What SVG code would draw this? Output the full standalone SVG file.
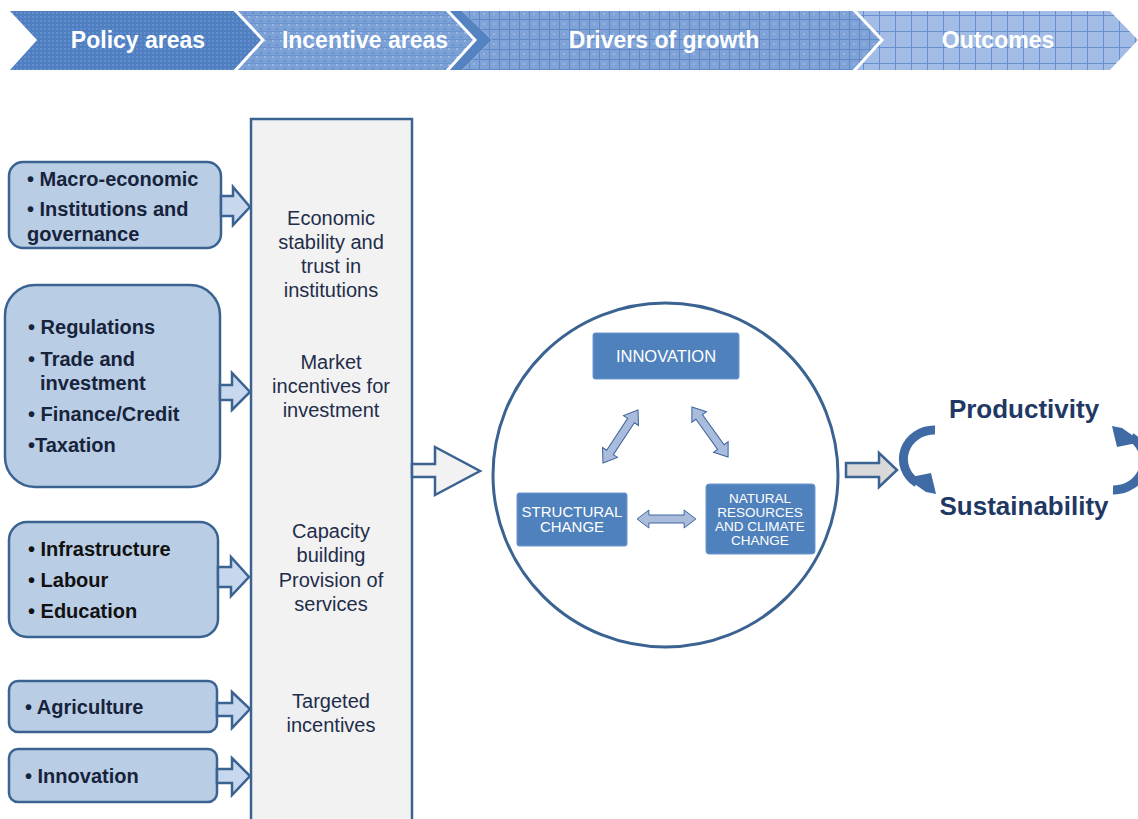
<svg xmlns="http://www.w3.org/2000/svg" width="1138" height="819" viewBox="0 0 1138 819">
<style>
.hdr{font-family:"Liberation Sans",Arial,sans-serif;font-weight:bold;font-size:23px;fill:#ffffff;text-anchor:middle}
.pbox{fill:#b9cde5;stroke:#3b6392;stroke-width:2.5}
.ptxt{font-family:"Liberation Sans",Arial,sans-serif;font-weight:bold;font-size:20px;fill:#17233b}
.blk{fill:#111111}
.barrow{fill:#c6d7ee;stroke:#3b6392;stroke-width:2.5;stroke-linejoin:miter}
.ctxt{font-family:"Liberation Sans",Arial,sans-serif;font-size:20px;fill:#1f2d4a;text-anchor:middle}
.drv{fill:#4f81bd;stroke:#6f97cc;stroke-width:1}
.dtxt{font-family:"Liberation Sans",Arial,sans-serif;fill:#ffffff;text-anchor:middle}
.dbl{fill:#a9bcdc;stroke:#3d64a0;stroke-width:1}
.out{font-family:"Liberation Sans",Arial,sans-serif;font-weight:bold;font-size:26px;fill:#1f3864;text-anchor:middle}
.curve{fill:none;stroke:#3f6aa3;stroke-width:9}
.chead{fill:#3f6aa3}
</style>
<defs>
<pattern id="p1" width="4" height="4" patternUnits="userSpaceOnUse">
<rect width="4" height="4" fill="#4f7fc0"/><rect width="2" height="2" fill="#628fcb"/>
</pattern>
<pattern id="p2" width="8" height="8" patternUnits="userSpaceOnUse">
<rect width="8" height="8" fill="#7aa0d6"/><rect width="2" height="2" fill="#9ab8e2"/><rect x="4" y="4" width="2" height="2" fill="#6690cc"/><rect y="7" width="8" height="1" fill="#6a92cc"/>
</pattern>
<pattern id="p3" width="10" height="10" patternUnits="userSpaceOnUse">
<rect width="10" height="10" fill="#7fa3d6"/><rect x="9" width="1" height="10" fill="#6088c6"/><rect y="9" width="10" height="1" fill="#6088c6"/><rect x="3" y="3" width="2" height="2" fill="#97b5e0"/>
</pattern>
<pattern id="p4" width="16" height="16" patternUnits="userSpaceOnUse">
<rect width="16" height="16" fill="#a2bce5"/><rect x="15" width="1" height="16" fill="#6590cd"/><rect y="15" width="16" height="1" fill="#6590cd"/>
</pattern>
<path id="dblarrow" d="M-30,0 L-18,-9 L-18,-4 L18,-4 L18,-9 L30,0 L18,9 L18,4 L-18,4 L-18,9 Z"/>
</defs>

<g id="header">
<polygon points="10,11 234,11 263,40 234,70 10,70 37,40" fill="url(#p1)"/>
<polygon points="234,11 446,11 475,40 446,70 234,70 263,40" fill="url(#p2)"/>
<polygon points="446,11 462,11 492,40 462,70 446,70 475,40" fill="#5583c2"/>
<polygon points="462,11 853,11 882,40 853,70 462,70 492,40" fill="url(#p3)"/>
<polygon points="853,11 1110,11 1138,40 1110,70 853,70 882,40" fill="url(#p4)"/>
<polyline points="234,9 263,40 234,72" fill="none" stroke="#ffffff" stroke-width="3"/>
<polyline points="446,9 475,40 446,72" fill="none" stroke="#ffffff" stroke-width="3"/>
<polyline points="853,9 882,40 853,72" fill="none" stroke="#ffffff" stroke-width="3"/>
<text class="hdr" x="138" y="48">Policy areas</text>
<text class="hdr" x="365" y="48">Incentive areas</text>
<text class="hdr" x="664" y="48">Drivers of growth</text>
<text class="hdr" x="998" y="48">Outcomes</text>
</g>

<g id="incentive-column">
<rect x="251" y="119" width="161" height="720" fill="#f2f2f2" stroke="#3b6392" stroke-width="2.5"/>
<text class="ctxt" x="331" y="225">Economic</text>
<text class="ctxt" x="331" y="249">stability and</text>
<text class="ctxt" x="331" y="273">trust in</text>
<text class="ctxt" x="331" y="297">institutions</text>
<text class="ctxt" x="331" y="369">Market</text>
<text class="ctxt" x="331" y="393">incentives for</text>
<text class="ctxt" x="331" y="417">investment</text>
<text class="ctxt" x="331" y="538">Capacity</text>
<text class="ctxt" x="331" y="562">building</text>
<text class="ctxt" x="331" y="587">Provision of</text>
<text class="ctxt" x="331" y="611">services</text>
<text class="ctxt" x="331" y="708">Targeted</text>
<text class="ctxt" x="331" y="732">incentives</text>
</g>

<g id="policy-macro">
<rect class="pbox" x="9" y="162" width="212" height="86" rx="14"/>
<text class="ptxt" x="27" y="186">• Macro-economic</text>
<text class="ptxt" x="27" y="216">• Institutions and</text>
<text class="ptxt" x="27" y="241">governance</text>
</g>
<g id="policy-market">
<rect class="pbox" x="5" y="285" width="215" height="202" rx="30"/>
<text class="ptxt" x="28" y="334">• Regulations</text>
<text class="ptxt" x="28" y="366">• Trade and</text>
<text class="ptxt" x="40" y="390">investment</text>
<text class="ptxt" x="28" y="421">• Finance/Credit</text>
<text class="ptxt" x="28" y="452">•Taxation</text>
</g>
<g id="policy-capacity">
<rect class="pbox" x="9" y="522" width="209" height="115" rx="18"/>
<text class="ptxt blk" x="28" y="556">• Infrastructure</text>
<text class="ptxt blk" x="28" y="587">• Labour</text>
<text class="ptxt blk" x="28" y="618">• Education</text>
</g>
<g id="policy-agriculture">
<rect class="pbox" x="9" y="681" width="208" height="51" rx="9"/>
<text class="ptxt" x="25" y="714">• Agriculture</text>
</g>
<g id="policy-innovation">
<rect class="pbox" x="9" y="749" width="208" height="53" rx="9"/>
<text class="ptxt" x="25" y="783">• Innovation</text>
</g>

<g id="drivers">
<ellipse cx="665.5" cy="475" rx="172.5" ry="172" fill="#ffffff" stroke="#3b6392" stroke-width="3"/>
<g id="driver-innovation">
<rect class="drv" x="593" y="333" width="146" height="46" rx="2"/>
<text class="dtxt" x="666" y="362" font-size="16.5">INNOVATION</text>
</g>
<g id="driver-structural">
<rect class="drv" x="517" y="493" width="110" height="53" rx="2"/>
<text class="dtxt" x="572" y="517" font-size="15">STRUCTURAL</text>
<text class="dtxt" x="572" y="532" font-size="15">CHANGE</text>
</g>
<g id="driver-natural">
<rect class="drv" x="706" y="484" width="109" height="70" rx="3"/>
<text class="dtxt" x="760" y="503" font-size="13.5">NATURAL</text>
<text class="dtxt" x="760" y="517" font-size="13.5">RESOURCES</text>
<text class="dtxt" x="760" y="531" font-size="13.5">AND CLIMATE</text>
<text class="dtxt" x="760" y="545" font-size="13.5">CHANGE</text>
</g>
</g>

<g id="outcomes">
<text class="out" x="1024" y="418">Productivity</text>
<text class="out" x="1024" y="515">Sustainability</text>
</g>

<g id="connectors">
<polygon class="barrow" points="221,196 233,196 233,187 250,207 233,225 233,216 221,216"/>
<polygon class="barrow" points="220,385 232,385 232,373 250,392 232,410 232,400 220,400"/>
<polygon class="barrow" points="218,567 231,567 231,557 249,577 231,596 231,587 218,587"/>
<polygon class="barrow" points="217,703 232,703 232,692 250,709 232,728 232,716 217,716"/>
<polygon class="barrow" points="217,769 232,769 232,758 250,776 232,795 232,783 217,783"/>
<polygon points="412,464 435,464 435,447 480,471 435,495 435,477 412,477" fill="#f2f2f2" stroke="#3b6392" stroke-width="2.5"/>
<use href="#dblarrow" class="dbl" transform="translate(620.5,436.5) rotate(-56.6) scale(1.06,1)"/>
<use href="#dblarrow" class="dbl" transform="translate(710,432) rotate(54.2) scale(1.03,1)"/>
<use href="#dblarrow" class="dbl" transform="translate(666.5,519) scale(0.98,1)"/>
<polygon points="846,463 879,463 879,453 897,470 879,487 879,477 846,477" fill="#d9d9d9" stroke="#3b6392" stroke-width="2.5"/>
<g id="cycle-left">
<path class="curve" d="M935,430 A31,29 0 0 0 917,483"/>
<polygon class="chead" points="906,478 926,492 936,494 931,473"/>
</g>
<g id="cycle-right" transform="rotate(180 1024 460)">
<path class="curve" d="M935,430 A31,29 0 0 0 917,483"/>
<polygon class="chead" points="906,478 926,492 936,494 931,473"/>
</g>
</g>
</svg>
